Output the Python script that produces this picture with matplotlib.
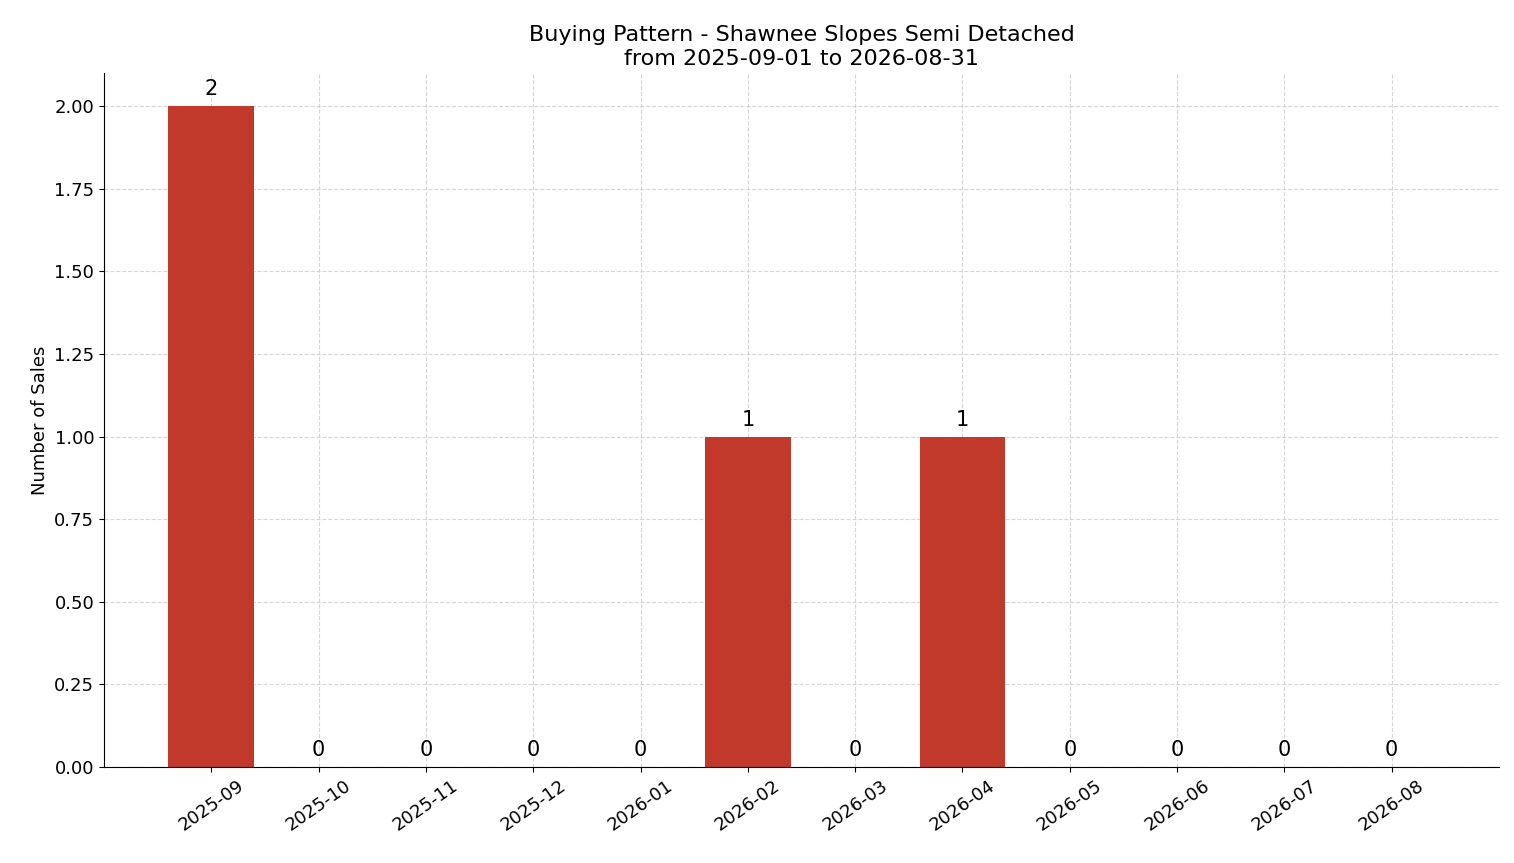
import matplotlib.pyplot as plt

months = ['2025-09', '2025-10', '2025-11', '2025-12', '2026-01', '2026-02',
          '2026-03', '2026-04', '2026-05', '2026-06', '2026-07', '2026-08']
sales = [2, 0, 0, 0, 0, 1, 0, 1, 0, 0, 0, 0]

fig = plt.figure(figsize=(15.14, 8.63), dpi=100)
ax = fig.add_axes([104/1514, 1 - 767/863, (1499-104)/1514, (767-73)/863])
x = list(range(len(months)))
ax.bar(x, sales, width=0.8, color='#c0392b', zorder=2)
for xi, v in zip(x, sales):
    ax.text(xi, v + 0.02, str(v), ha='center', va='bottom', fontsize=15)
ax.set_xticks(x)
ax.set_xticklabels(months, rotation=35, fontsize=13)
ax.tick_params(axis='y', labelsize=13)
ax.set_xlim(-1, 12)
ax.set_ylim(0, 2.1)
ax.set_ylabel('Number of Sales', fontsize=13)
ax.set_title('Buying Pattern - Shawnee Slopes Semi Detached\nfrom 2025-09-01 to 2026-08-31', fontsize=16)
ax.grid(True, linestyle='--', color='#cccccc', alpha=0.8, zorder=0)
ax.set_axisbelow(True)
ax.spines['top'].set_visible(False)
ax.spines['right'].set_visible(False)
fig.savefig('out.png', dpi=100)
